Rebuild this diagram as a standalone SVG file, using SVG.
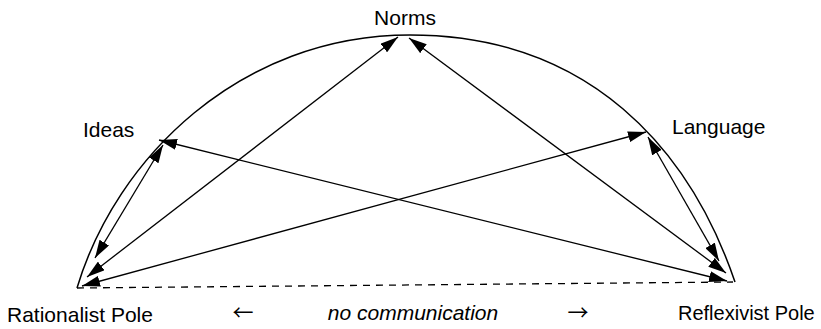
<svg xmlns="http://www.w3.org/2000/svg" width="821" height="329" viewBox="0 0 821 329">
<style>
.lbl{font-family:"Liberation Sans",Arial,sans-serif;font-size:21px;fill:#000}
.cap{font-family:"Liberation Sans",Arial,sans-serif;font-size:21px;font-style:italic;fill:#000}
.sym{font-family:"Noto Sans CJK SC",sans-serif;font-size:21px;fill:#000}
.arc{fill:none;stroke:#000;stroke-width:1.5}
.ln{fill:none;stroke:#000;stroke-width:1.3;marker-start:url(#ah);marker-end:url(#ah)}
.dash{fill:none;stroke:#000;stroke-width:1.3;stroke-dasharray:7 6}
</style>
<defs>
<marker id="ah" markerUnits="userSpaceOnUse" markerWidth="18" markerHeight="11" refX="18" refY="5.5" orient="auto-start-reverse" viewBox="0 0 18 11">
<path d="M0,0 L18,5.5 L0,11 Z" fill="#000"/>
</marker>
</defs>
<path id="arc" class="arc" d="M77,288 C116,158 240,35 410,35 C590,35 690,150 735,282"/>
<g id="connectors">
<line class="ln" x1="163" y1="145" x2="95" y2="258"/>
<line class="ln" x1="398" y1="37" x2="87" y2="277"/>
<line class="ln" x1="646" y1="132" x2="82" y2="286"/>
<line class="ln" x1="159" y1="140" x2="727" y2="281"/>
<line class="ln" x1="409" y1="38" x2="726" y2="273"/>
<line class="ln" x1="648" y1="137" x2="719" y2="261"/>
<line class="dash" x1="77" y1="288" x2="733" y2="282"/>
</g>
<g id="norms"><text class="lbl" x="405" y="25" text-anchor="middle">Norms</text></g>
<g id="ideas"><text class="lbl" x="83" y="137">Ideas</text></g>
<g id="language"><text class="lbl" x="672" y="134">Language</text></g>
<g id="rationalist"><text class="lbl" x="7" y="322">Rationalist Pole</text></g>
<g id="reflexivist"><text class="lbl" x="678" y="320" style="font-size:20px">Reflexivist Pole</text></g>
<g id="caption">
<text class="sym" x="243" y="320" text-anchor="middle">←</text>
<text class="cap" x="413" y="320" text-anchor="middle">no communication</text>
<text class="sym" x="578" y="320" text-anchor="middle">→</text>
</g>
</svg>
